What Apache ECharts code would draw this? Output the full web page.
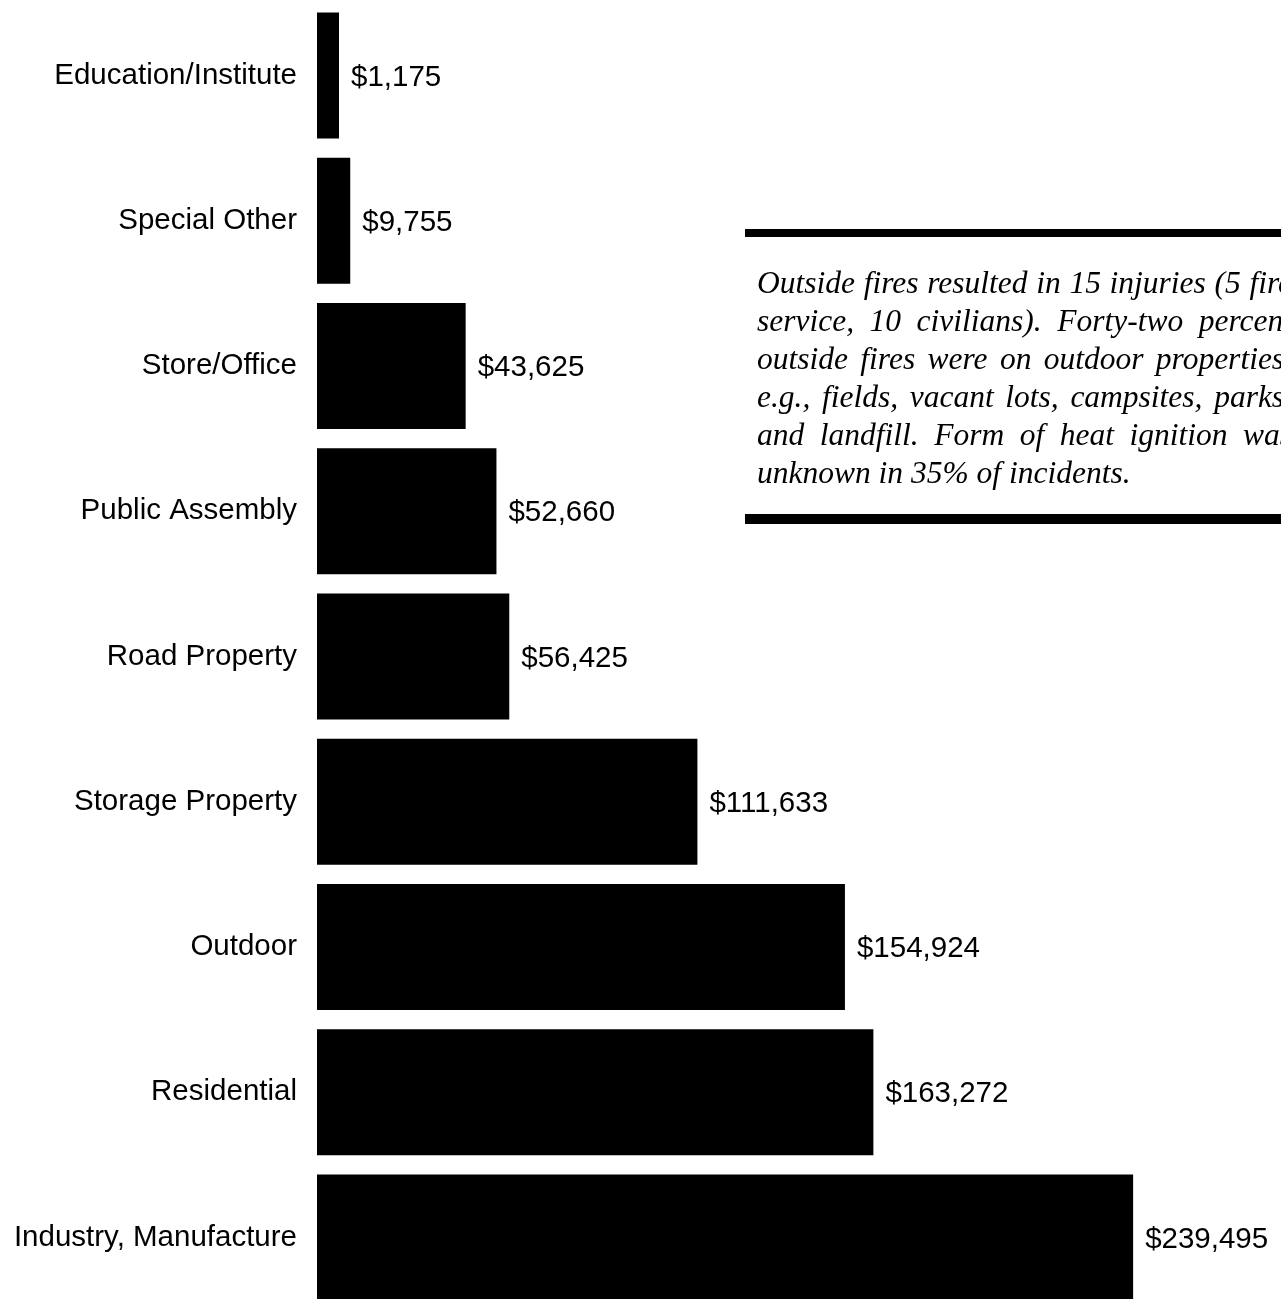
<!DOCTYPE html>
<html>
<head>
<meta charset="utf-8">
<script src="https://cdn.jsdelivr.net/npm/echarts@6/dist/echarts.min.js"></script>
<style>
html,body{margin:0;padding:0;background:#fff;}
#chart{width:1281px;height:1299px;}
</style>
</head>
<body>
<div id="chart"></div>
<script>
// ---- data ----
const categories = [
  'Education/Institute',
  'Special Other',
  'Store/Office',
  'Public Assembly',
  'Road Property',
  'Storage Property',
  'Outdoor',
  'Residential',
  'Industry, Manufacture'
];
const lossValues = [1175, 9755, 43625, 52660, 56425, 111633, 154924, 163272, 239495];
const noteLines = [
  'Outside fires resulted in 15 injuries (5 fire',
  'service, 10 civilians).  Forty-two percent',
  'outside fires were on outdoor properties,',
  'e.g., fields, vacant lots, campsites, parks,',
  'and landfill.  Form of heat ignition was',
  'unknown in 35% of incidents.'
];

// ---- layout ----
const sansFont = 'Liberation Sans';
const noteFont = 'italic 31.5px "Liberation Serif"';
const noteLeft = 757, noteRight = 1292, noteTop = 285, noteStep = 38;

const measureCtx = document.createElement('canvas').getContext('2d');
measureCtx.font = noteFont;

const graphics = [
  { type: 'rect', shape: { x: 745, y: 229, width: 560, height: 8 }, style: { fill: '#000' } },
  { type: 'rect', shape: { x: 745, y: 514, width: 560, height: 10 }, style: { fill: '#000' } }
];
noteLines.forEach(function (line, i) {
  const y = noteTop + i * noteStep;
  const last = i === noteLines.length - 1;
  if (last) {
    graphics.push({ type: 'text', x: noteLeft, y: y,
      style: { text: line, font: noteFont, fill: '#000', verticalAlign: 'middle', align: 'left' } });
    return;
  }
  const words = line.split(/\s+/);
  const widths = words.map(function (w) { return measureCtx.measureText(w).width; });
  const total = widths.reduce(function (a, b) { return a + b; }, 0);
  const space = measureCtx.measureText(' ').width;
  const gap = Math.max(space * 0.6, (noteRight - noteLeft - total) / (words.length - 1));
  let x = noteLeft;
  words.forEach(function (w, j) {
    graphics.push({ type: 'text', x: x, y: y,
      style: { text: w, font: noteFont, fill: '#000', verticalAlign: 'middle', align: 'left' } });
    x += widths[j] + gap;
  });
});

const chart = echarts.init(document.getElementById('chart'), null, { renderer: 'canvas' });
chart.setOption({
  animation: false,
  backgroundColor: '#fff',
  grid: { left: 317, top: 3, width: 886, height: 1307, containLabel: false, outerBoundsMode: 'none' },
  xAxis: { type: 'value', min: 0, max: 260000, show: false },
  yAxis: {
    type: 'category',
    data: categories,
    inverse: true,
    axisLine: { show: false },
    axisTick: { show: false },
    splitLine: { show: false },
    axisLabel: { margin: 20, fontSize: 29.5, color: '#000', fontFamily: sansFont }
  },
  series: [{
    type: 'bar',
    data: lossValues,
    barWidth: 126,
    barMinHeight: 22,
    itemStyle: { color: '#000' },
    label: {
      show: true,
      position: 'right',
      distance: 12,
      offset: [0, 2],
      color: '#000',
      fontSize: 29.5,
      fontFamily: sansFont,
      formatter: function (p) { return '$' + p.value.toLocaleString('en-US'); }
    }
  }],
  graphic: graphics
});
</script>
</body>
</html>
